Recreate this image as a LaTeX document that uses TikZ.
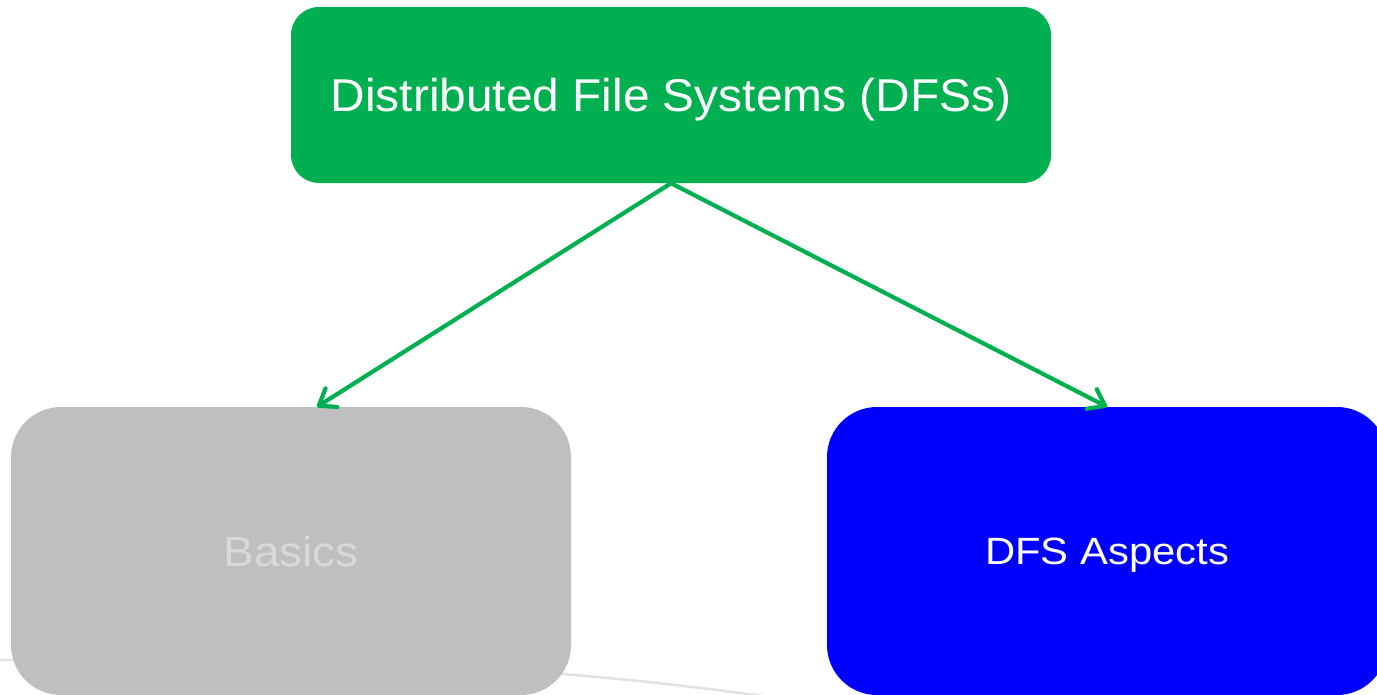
\documentclass[tikz,border=0pt]{standalone}
\usepackage{fontspec}
\setmainfont{Liberation Sans}
\usetikzlibrary{arrows.meta}
\definecolor{dfsgreen}{HTML}{00B050}
\definecolor{basgray}{HTML}{BFBFBF}
\definecolor{bastext}{HTML}{D9D9D9}
\definecolor{swoosh}{HTML}{E2E2E2}
\tikzset{
  box/.style={rounded corners=#1, inner sep=0pt, text depth=0pt},
  topbox/.style={box=28pt, fill=dfsgreen, text=white, minimum width=760pt, minimum height=176pt,
    text height=33pt, font=\fontsize{46}{50}\selectfont\addfontfeature{FakeStretch=1.04}},
  leftbox/.style={box=50pt, fill=basgray, text=bastext, minimum width=560pt, minimum height=288pt,
    text height=30pt, font=\fontsize{42}{46}\selectfont\addfontfeature{FakeStretch=1.09}},
  rightbox/.style={box=50pt, fill=blue, text=white, minimum width=560pt, minimum height=288pt,
    text height=27pt, font=\fontsize{38}{42}\selectfont\addfontfeature{FakeStretch=1.1}},
  link/.style={draw=dfsgreen, line width=4.2pt,
    -{Straight Barb[length=15pt,width=22pt,line width=4.2pt,line cap=round,line join=round]}}
}
\begin{document}
\begin{tikzpicture}[x=1pt,y=-1pt]
\useasboundingbox (0,0) rectangle (1377,694);
\clip (0,0) rectangle (1377,694);
\fill[white] (0,0) rectangle (1377,694);
\draw[swoosh, line width=2.5pt] (0,660) .. controls (300,657) and (520,662) .. (770,697);
\node[topbox] (dfs) at (671,95) {Distributed File Systems (DFSs)};
\node[leftbox] (basics) at (291,551) {Basics};
\node[rightbox] (aspects) at (1107,551) {DFS Aspects};
\draw[link] (dfs.south) -- ([xshift=26pt]basics.north);
\draw[link] (dfs.south) -- (aspects.north);
\end{tikzpicture}
\end{document}
